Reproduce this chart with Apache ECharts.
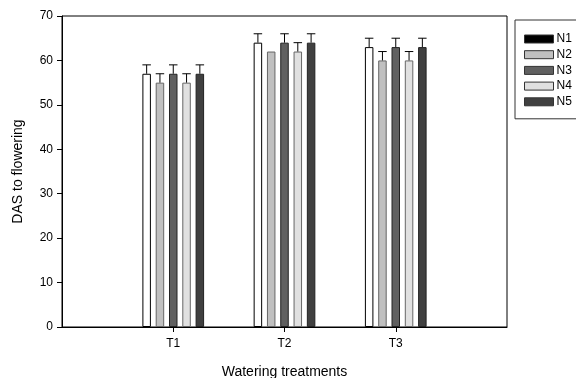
<!DOCTYPE html>
<html>
<head>
<meta charset="utf-8">
<script src="https://cdn.jsdelivr.net/npm/echarts@6/dist/echarts.min.js"></script>
<style>
  html, body { margin: 0; padding: 0; background: #fff; }
  #chart { width: 576px; height: 378px; }
</style>
</head>
<body>
<div id="chart"></div>
<script>
// padded categories so T1..T3 sit at 1/4, 1/2, 3/4 of the axis
const categories = ["", "T1", "T2", "T3", ""];
const seriesNames = ["N1", "N2", "N3", "N4", "N5"];
const n1 = ["-", 57, 64, 63, "-"];
const n2 = ["-", 55, 62, 60, "-"];
const n3 = ["-", 57, 64, 63, "-"];
const n4 = ["-", 55, 62, 60, "-"];
const n5 = ["-", 57, 64, 63, "-"];
const n1Err = [0, 2, 2, 2, 0];
const n2Err = [0, 2, 0, 2, 0];
const n3Err = [0, 2, 2, 2, 0];
const n4Err = [0, 2, 2, 2, 0];
const n5Err = [0, 2, 2, 2, 0];
const yTicks = [0, 10, 20, 30, 40, 50, 60, 70];

const values = [n1, n2, n3, n4, n5];
const errs = [n1Err, n2Err, n3Err, n4Err, n5Err];
const fills = ["#ffffff", "#c0c0c0", "#606060", "#e0e0e0", "#404040"];
const borders = ["#000000", "#666666", "#222222", "#666666", "#222222"];
const legendColors = ["#000000", "#c0c0c0", "#606060", "#e0e0e0", "#404040"];

const barW = 8.5;
const pitch = 13.3;
const font = "Liberation Sans, Arial, sans-serif";

const chart = echarts.init(document.getElementById("chart"));

// flat list of [catIndex, value, err, seriesIndex] for error bars
const errData = [];
values.forEach((arr, s) => {
  arr.forEach((v, i) => {
    if (v !== "-" && errs[s][i] > 0) errData.push([i, v, errs[s][i], s]);
  });
});

const series = seriesNames.map((name, s) => ({
  name: name,
  type: "bar",
  data: values[s],
  barWidth: barW,
  barGap: ((pitch - barW) / barW * 100).toFixed(1) + "%",
  itemStyle: { color: fills[s], borderColor: borders[s], borderWidth: 1 },
  emphasis: { disabled: true },
  z: 2,
}));

series.push({
  type: "custom",
  data: errData,
  z: 3,
  renderItem: function (params, api) {
    const cat = api.value(0);
    const v = api.value(1);
    const e = api.value(2);
    const s = api.value(3);
    const base = api.coord([cat, v]);
    const top = api.coord([cat, v + e]);
    const x = base[0] + (s - 2) * pitch;
    const half = barW / 2;
    const style = { stroke: "#000", lineWidth: 1, fill: null };
    return {
      type: "group",
      children: [
        { type: "line", shape: { x1: x, y1: base[1], x2: x, y2: top[1] }, style: style },
        { type: "line", shape: { x1: x - half, y1: top[1], x2: x + half, y2: top[1] }, style: style },
      ],
    };
  },
});

chart.setOption({
  animation: false,
  backgroundColor: "#fff",
  grid: {
    left: 62,
    right: 69,
    top: 16,
    bottom: 51,
    outerBoundsMode: "none",
    show: true,
    borderColor: "#000",
    borderWidth: 1,
    backgroundColor: "transparent",
  },
  legend: {
    orient: "vertical",
    left: 515,
    top: 20,
    itemWidth: 29,
    itemHeight: 8,
    itemGap: 3.7,
    padding: [13, 12, 11, 9],
    borderColor: "#333",
    borderWidth: 1,
    icon: "rect",
    textStyle: { fontFamily: font, fontSize: 12, lineHeight: 12, color: "#000", padding: [0, 0, 0, -2] },
    data: seriesNames.map((name, s) => ({
      name: name,
      itemStyle: { color: legendColors[s], borderColor: "#333", borderWidth: 1 },
    })),
  },
  xAxis: {
    type: "category",
    data: categories,
    boundaryGap: false,
    name: "Watering treatments",
    nameLocation: "middle",
    nameGap: 38,
    nameTextStyle: { fontFamily: font, fontSize: 14, color: "#000" },
    axisLine: { lineStyle: { color: "#000", width: 1 } },
    axisTick: {
      length: 5,
      interval: function (idx, val) { return val !== ""; },
      lineStyle: { color: "#000" },
    },
    axisLabel: {
      interval: function (idx, val) { return val !== ""; },
      fontFamily: font,
      fontSize: 12,
      color: "#000",
      margin: 11,
    },
    splitLine: { show: false },
  },
  yAxis: {
    type: "value",
    min: yTicks[0],
    max: yTicks[yTicks.length - 1],
    interval: 10,
    name: "DAS to flowering",
    nameLocation: "middle",
    nameGap: 37,
    nameTextStyle: { fontFamily: font, fontSize: 14, color: "#000" },
    axisLine: { show: true, lineStyle: { color: "#000", width: 1 } },
    axisTick: { show: true, length: 5, lineStyle: { color: "#000" } },
    axisLabel: { fontFamily: font, fontSize: 12, color: "#000", margin: 9 },
    splitLine: { show: false },
  },
  series: series,
});
</script>
</body>
</html>
